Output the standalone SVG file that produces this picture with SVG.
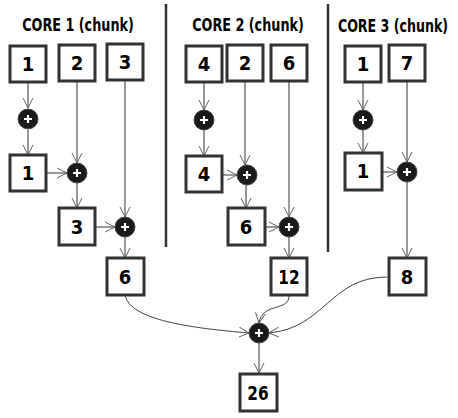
<svg xmlns="http://www.w3.org/2000/svg" width="458" height="418" viewBox="0 0 458 418">
<style>
.bx rect{fill:#fff;stroke:#333;stroke-width:3}
.bx text{font-family:"DejaVu Sans Condensed","DejaVu Sans",sans-serif;font-stretch:condensed;font-weight:bold;font-size:20px;fill:#000;text-anchor:middle}
.tt{font-family:"DejaVu Sans Condensed","DejaVu Sans",sans-serif;font-stretch:condensed;font-weight:bold;font-size:18px;fill:#000;text-anchor:middle}
.pl circle{fill:#1a1a1a;stroke:#444;stroke-width:1}
.pl path{stroke:#fff;stroke-width:2.2;fill:none}
.cn path{fill:none;stroke:#999;stroke-width:2;marker-end:url(#ah)}
.cn path.cv{stroke:#444;stroke-width:1}
.sep{stroke:#333;stroke-width:2.5}
</style>
<defs>
<marker id="ah" viewBox="0 -6 10 12" refX="10" refY="0" markerWidth="10" markerHeight="12" markerUnits="userSpaceOnUse" orient="auto">
<path d="M0,-5 L10,0 L0,5" fill="none" stroke="#666" stroke-width="1"/>
</marker>
</defs>
<rect width="458" height="418" fill="#fff"/>
<line class="sep" x1="166" y1="4" x2="166" y2="247"/>
<line class="sep" x1="328" y1="4" x2="328" y2="252"/>
<text class="tt" transform="translate(78,31) scale(0.79,1)">CORE 1 (chunk)</text>
<text class="tt" transform="translate(248,31) scale(0.79,1)">CORE 2 (chunk)</text>
<text class="tt" transform="translate(393,32) scale(0.78,1)">CORE 3 (chunk)</text>
<g class="cn" id="connectors">
<path d="M28,82 V108"/>
<path d="M28,130 V155"/>
<path d="M77,82 V163"/>
<path d="M46,173 H67"/>
<path d="M77,183 V208"/>
<path d="M125,81 V217"/>
<path d="M96,227 H115"/>
<path d="M125,237 V258"/>
<path d="M204,82 V110"/>
<path d="M204,130 V156"/>
<path d="M245,81 V165"/>
<path d="M222,175 H237"/>
<path d="M246,185 V208"/>
<path d="M289,81 V217"/>
<path d="M265,227 H279"/>
<path d="M289,237 V258"/>
<path d="M363,82 V110"/>
<path d="M363,130 V153"/>
<path d="M407,81 V162"/>
<path d="M382,172 H397"/>
<path d="M407,182 V258"/>
<path d="M259,343 V373"/>
<path class="cv" d="M125,295 C130,320 190,328 249,333"/>
<path class="cv" d="M289,295 C290,312 262,302 259,323"/>
<path class="cv" d="M387,277 C330,277 325,328 269,333"/>
</g>
<g id="box-c1-1" class="bx"><rect x="10" y="46" width="36" height="36"/><text x="28" y="71">1</text></g>
<g id="box-c1-2" class="bx"><rect x="59" y="45" width="36" height="36"/><text x="77" y="70">2</text></g>
<g id="box-c1-3" class="bx"><rect x="107" y="44" width="36" height="36"/><text x="125" y="69">3</text></g>
<g id="plus-c1-1" class="pl"><circle cx="28" cy="119" r="10"/><path d="M24,119 H32 M28,115 V123"/></g>
<g id="box-c1-4" class="bx"><rect x="10" y="155" width="36" height="36"/><text x="28" y="180">1</text></g>
<g id="plus-c1-2" class="pl"><circle cx="77" cy="173" r="10"/><path d="M73,173 H81 M77,169 V177"/></g>
<g id="box-c1-5" class="bx"><rect x="59" y="208" width="36" height="37"/><text x="77" y="234">3</text></g>
<g id="plus-c1-3" class="pl"><circle cx="125" cy="227" r="10"/><path d="M121,227 H129 M125,223 V231"/></g>
<g id="box-c1-6" class="bx"><rect x="107" y="258" width="37" height="37"/><text x="125" y="284">6</text></g>
<g id="box-c2-1" class="bx"><rect x="186" y="46" width="36" height="36"/><text x="204" y="71">4</text></g>
<g id="box-c2-2" class="bx"><rect x="227" y="45" width="36" height="36"/><text x="245" y="70">2</text></g>
<g id="box-c2-3" class="bx"><rect x="271" y="45" width="36" height="36"/><text x="289" y="70">6</text></g>
<g id="plus-c2-1" class="pl"><circle cx="204" cy="120" r="10"/><path d="M200,120 H208 M204,116 V124"/></g>
<g id="box-c2-4" class="bx"><rect x="186" y="156" width="36" height="36"/><text x="204" y="181">4</text></g>
<g id="plus-c2-2" class="pl"><circle cx="247" cy="175" r="10"/><path d="M243,175 H251 M247,171 V179"/></g>
<g id="box-c2-5" class="bx"><rect x="228" y="208" width="37" height="37"/><text x="246" y="234">6</text></g>
<g id="plus-c2-3" class="pl"><circle cx="289" cy="227" r="10"/><path d="M285,227 H293 M289,223 V231"/></g>
<g id="box-c2-6" class="bx"><rect x="271" y="258" width="36" height="37"/><text x="289" y="284" transform="translate(289,0) scale(0.85,1) translate(-289,0)">12</text></g>
<g id="box-c3-1" class="bx"><rect x="345" y="46" width="36" height="36"/><text x="363" y="71">1</text></g>
<g id="box-c3-2" class="bx"><rect x="389" y="45" width="36" height="36"/><text x="407" y="70">7</text></g>
<g id="plus-c3-1" class="pl"><circle cx="363" cy="120" r="10"/><path d="M359,120 H367 M363,116 V124"/></g>
<g id="box-c3-3" class="bx"><rect x="345" y="153" width="37" height="37"/><text x="363" y="178">1</text></g>
<g id="plus-c3-2" class="pl"><circle cx="407" cy="172" r="10"/><path d="M403,172 H411 M407,168 V176"/></g>
<g id="box-c3-4" class="bx"><rect x="389" y="258" width="37" height="37"/><text x="407" y="284">8</text></g>
<g id="plus-final" class="pl"><circle cx="259" cy="333" r="10"/><path d="M255,333 H263 M259,329 V337"/></g>
<g id="box-final" class="bx"><rect x="240" y="374" width="37" height="37"/><text x="258" y="400" transform="translate(258,0) scale(0.85,1) translate(-258,0)">26</text></g>
</svg>
